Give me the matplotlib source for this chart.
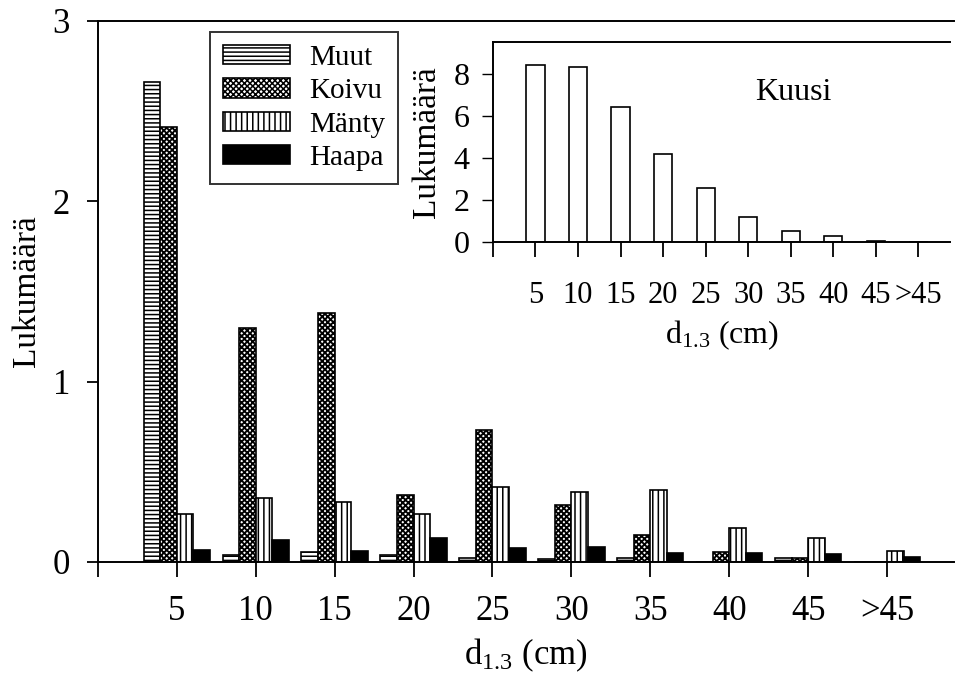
## Puiden lukumäärä läpimittaluokittain

import numpy as np
import matplotlib
matplotlib.use('Agg')
import matplotlib.pyplot as plt

plt.rcParams['font.family'] = ['Liberation Serif', 'DejaVu Serif']
plt.rcParams['mathtext.fontset'] = 'custom'
plt.rcParams['mathtext.rm'] = 'Liberation Serif'
plt.rcParams['mathtext.it'] = 'Liberation Serif:italic'
plt.rcParams['hatch.linewidth'] = 1.1

# --- data ---
classes = ['5', '10', '15', '20', '25', '30', '35', '40', '45', '>45']
muut = [2.66, 0.04, 0.057, 0.037, 0.02, 0.015, 0.02, 0.0, 0.02, 0.0]
koivu = [2.41, 1.30, 1.38, 0.37, 0.73, 0.316, 0.15, 0.055, 0.02, 0.0]
manty = [0.266, 0.355, 0.33, 0.266, 0.415, 0.39, 0.40, 0.19, 0.13, 0.06]
haapa = [0.067, 0.12, 0.06, 0.13, 0.077, 0.083, 0.05, 0.05, 0.045, 0.025]
kuusi = [8.43, 8.3, 6.4, 4.2, 2.56, 1.18, 0.52, 0.3, 0.05, 0.02]

series = [('Muut', muut, 'white', '----'),
          ('Koivu', koivu, 'white', 'xxxxxx'),
          ('Mänty', manty, 'white', '|||'),
          ('Haapa', haapa, 'black', None)]

xlab = r'd$_{\mathregular{1.3}}$ (cm)'

fig = plt.figure(figsize=(9.59, 6.77), dpi=100)

# --- main chart ---
ax = fig.add_axes([0.102, 0.170, 0.893, 0.799])
x = np.arange(1, len(classes) + 1)
w = 0.21
for i, (name, vals, fc, hatch) in enumerate(series):
    bars = ax.bar(x + (i - 1.5) * w, vals, w, facecolor=fc, edgecolor='black',
                  hatch=hatch, linewidth=1.2, label=name)
    # koivu crosshatch a bit heavier so it reads dark like the print
    if name == 'Koivu':
        for b in bars:
            if hasattr(b, 'set_hatch_linewidth'):
                b.set_hatch_linewidth(1.35)

ax.set_xlim(0, 10.85)
ax.set_ylim(0, 3)
ax.set_xticks(np.arange(0, 11))
ax.set_xticklabels([''] + classes)
ax.set_yticks([0, 1, 2, 3])
ax.spines['right'].set_visible(False)
for s in ['top', 'left', 'bottom']:
    ax.spines[s].set_linewidth(1.4)
ax.tick_params(axis='x', direction='out', length=11, width=1.3, pad=13, labelsize=25)
ax.tick_params(axis='y', direction='out', length=8, width=1.3, pad=12, labelsize=25)
ax.set_xlabel(xlab, fontsize=25, labelpad=6)
ax.set_ylabel('Lukumäärä', fontsize=24, labelpad=8)

leg = ax.legend(loc='upper left', bbox_to_anchor=(0.219, 0.953),
                bbox_transform=fig.transFigure, borderaxespad=0,
                fontsize=21, frameon=True, fancybox=False, edgecolor='black',
                handlelength=2.3, handleheight=0.65, handletextpad=0.65,
                labelspacing=0.25, borderpad=0.45)
leg.get_frame().set_linewidth(1.4)
for h in leg.legend_handles:
    if h.get_label() == 'Koivu' and hasattr(h, 'set_hatch_linewidth'):
        h.set_hatch_linewidth(1.35)

# --- inset: Kuusi ---
ax2 = fig.add_axes([0.514, 0.6425, 0.477, 0.2955])
ax2.bar(x, kuusi, 0.43, facecolor='white', edgecolor='black', linewidth=1.2)
ax2.set_xlim(0, 10.75)
ax2.set_ylim(0, 9.5)
ax2.set_xticks(np.arange(0, 11))
ax2.set_xticklabels([''] + classes)
ax2.set_yticks([0, 2, 4, 6, 8])
ax2.spines['right'].set_visible(False)
for s in ['top', 'left', 'bottom']:
    ax2.spines[s].set_linewidth(1.4)
ax2.tick_params(axis='x', direction='out', length=11, width=1.3, pad=17, labelsize=22)
ax2.tick_params(axis='y', direction='out', length=8, width=1.0, pad=9, labelsize=23)
ax2.set_xlabel(xlab, fontsize=23, labelpad=6)
ax2.set_ylabel('Lukumäärä', fontsize=24, labelpad=8)
ax2.text(0.656, 0.745, 'Kuusi', transform=ax2.transAxes, fontsize=23,
         ha='center', va='center')

fig.savefig('out.png', dpi=100)
